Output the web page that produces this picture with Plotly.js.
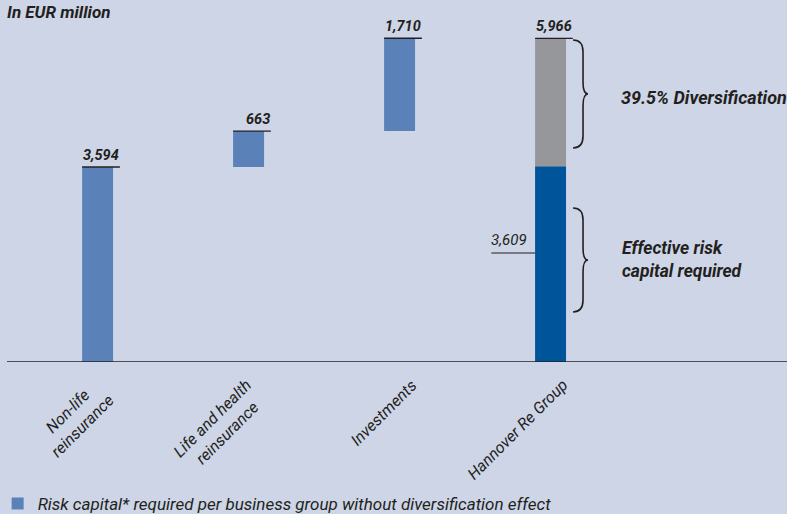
<!DOCTYPE html>
<html><head><meta charset="utf-8">
<script src="https://cdn.plot.ly/plotly-3.0.1.min.js"></script>
<style>html,body{margin:0;padding:0;background:#cdd5e7;}#chart{width:787px;height:514px;}</style>
</head><body><div id="chart"></div>
<script>
// ---- data ----
const categories = ["Non-life reinsurance", "Life and health reinsurance", "Investments", "Hannover Re Group"];
const tickLabels = ["Non-life<br>reinsurance", "Life and health<br>reinsurance", "Investments", "Hannover Re Group"];
const segmentValues = [3594, 663, 1710];           // risk capital per business group
const groupTotal = 5966;                           // sum without diversification
const groupEffective = 3609;                       // effective risk capital required
const valueLabels = ["3,594", "663", "1,710", "5,966"];
const effectiveLabel = "3,609";
const diversificationText = "39.5% Diversification";
const effectiveText = "Effective risk<br>capital required";
const legendText = "Risk capital* required per business group without diversification effect";

// ---- derived ----
const bases = [];
let acc = 0;
segmentValues.forEach(v => { bases.push(acc); acc += v; });
const tops = segmentValues.map((v, i) => bases[i] + v).concat([groupTotal]);

const W = 0.205;
const ink = "#231f20";
const fontFam = "Roboto, 'Open Sans', sans-serif";
const xIdx = [0, 1, 2, 3];

const traces = [
  {type: "bar", x: xIdx.slice(0, 3), y: segmentValues, base: bases, width: W,
   marker: {color: "#5b82b8"}, name: legendText, showlegend: true, hoverinfo: "skip"},
  {type: "bar", x: [3], y: [groupEffective], base: [0], width: W,
   marker: {color: "#00549a"}, name: "Effective", showlegend: false, hoverinfo: "skip"},
  {type: "bar", x: [3], y: [groupTotal - groupEffective], base: [groupEffective], width: W,
   marker: {color: "#96979b"}, name: "Diversification", showlegend: false, hoverinfo: "skip"}
];

const shapes = [];
const annotations = [];

// baseline
shapes.push({type: "line", xref: "paper", yref: "y", x0: 0, x1: 1, y0: 0, y1: 0,
  line: {color: ink, width: 1.5}});

// value labels with underline
tops.forEach((t, i) => {
  shapes.push({type: "line", xref: "x", yref: "y", x0: i - W / 2, x1: i + W / 2 + 0.045, y0: t, y1: t,
    line: {color: ink, width: 1.3}});
  annotations.push({xref: "x", yref: "y", x: i + W / 2 + 0.05, y: t, xanchor: "right", yanchor: "bottom",
    yshift: 1, showarrow: false, text: "<b><i>" + valueLabels[i] + "</i></b>",
    font: {family: fontFam, size: 14.5, color: ink, style: "italic"}});
});

// 3,609 label left of group bar
const effLabelY = 2009;
shapes.push({type: "line", xref: "x", yref: "y", x0: 3 - W / 2 - 0.29, x1: 3 - W / 2, y0: effLabelY, y1: effLabelY,
  line: {color: ink, width: 1.1}});
annotations.push({xref: "x", yref: "y", x: 3 - W / 2 - 0.04, y: effLabelY, xanchor: "right", yanchor: "bottom",
  yshift: 2, showarrow: false, text: "<i>" + effectiveLabel + "</i>",
  font: {family: fontFam, size: 15, color: ink, style: "italic"}});

// braces
function brace(yT, yB) {
  const xL = 3.149, xM = 3.215, xR = 3.248;
  const r = 220, yC = (yT + yB) / 2;
  return `M${xL},${yT} Q${xM},${yT} ${xM},${yT - r} L${xM},${yC + r} Q${xM},${yC} ${xR},${yC} ` +
         `Q${xM},${yC} ${xM},${yC - r} L${xM},${yB + r} Q${xM},${yB} ${xL},${yB}`;
}
shapes.push({type: "path", xref: "x", yref: "y", path: brace(5934, 3944), line: {color: ink, width: 1.6}});
shapes.push({type: "path", xref: "x", yref: "y", path: brace(2838, 921), line: {color: ink, width: 1.6}});

annotations.push({xref: "x", yref: "y", x: 3.454, y: 4884, xanchor: "left", yanchor: "middle", showarrow: false,
  text: "<b><i>" + diversificationText + "</i></b>", font: {family: fontFam, size: 18, color: ink, style: "italic"}});
annotations.push({xref: "x", yref: "y", x: 3.46, y: 1898, xanchor: "left", yanchor: "middle", showarrow: false,
  align: "left", text: "<b><i>" + effectiveText.replace("<br>", "</i></b><br><b><i>") + "</i></b>",
  font: {family: fontFam, size: 17.5, color: ink, style: "italic"}});

// category labels (rotated)
tickLabels.forEach((lab, i) => {
  annotations.push({xref: "x", yref: "paper", x: i, y: -0.03, xanchor: "right", yanchor: "top",
    xshift: 24, showarrow: false, textangle: -45, align: "center",
    text: "<i>" + lab.replace("<br>", "</i><br><i>") + "</i>",
    font: {family: fontFam, size: 16, color: ink, style: "italic"}});
});

const layout = {
  width: 787, height: 514,
  paper_bgcolor: "#cdd5e7", plot_bgcolor: "#cdd5e7",
  margin: {l: 7, r: 0, t: 0, b: 152, autoexpand: false},
  title: {text: "<b><i>In EUR million</i></b>", x: 0.009, xref: "container", xanchor: "left",
    y: 1 - 12 / 514, yref: "container", yanchor: "middle",
    font: {family: fontFam, size: 17, color: ink, style: "italic"}},
  xaxis: {range: [-0.6, 4.566], showticklabels: false, showgrid: false, zeroline: false, ticks: "", fixedrange: true},
  yaxis: {range: [0, 6672], visible: false, showgrid: false, zeroline: false, fixedrange: true},
  barmode: "overlay",
  showlegend: true,
  legend: {orientation: "h", x: -0.012, xanchor: "left", y: -0.392, yanchor: "middle",
    bgcolor: "rgba(0,0,0,0)", font: {family: fontFam, size: 17, color: ink, style: "italic"}},
  shapes: shapes, annotations: annotations
};

Plotly.newPlot("chart", traces, layout, {displayModeBar: false, staticPlot: true});
</script></body></html>
